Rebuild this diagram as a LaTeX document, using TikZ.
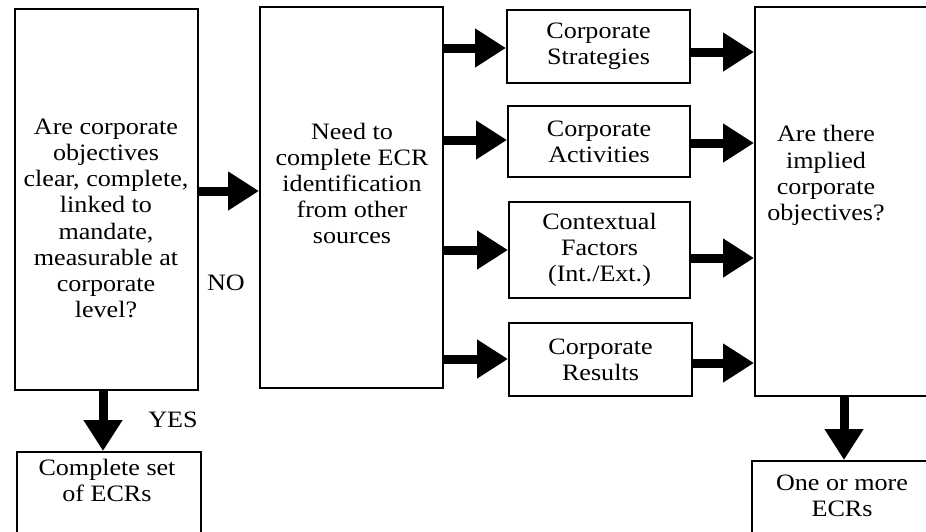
\documentclass[tikz,border=0pt]{standalone}
\usepackage{fontspec}
\setmainfont{Liberation Serif}[FakeStretch=1.11]
\usetikzlibrary{arrows.meta}
\tikzset{
  box/.style={draw, line width=2pt, inner sep=0pt, align=center},
  txt/.style={align=center, inner sep=0pt},
  fat/.style={line width=9pt, -{Triangle[length=31pt,width=37pt]}},
  every node/.style={font=\fontsize{23.5}{26.2}\selectfont}
}
\begin{document}
\begin{tikzpicture}[x=1pt,y=-1pt]
\useasboundingbox (0,0) rectangle (926,531);
% boxes
\node[box, minimum width=183pt, minimum height=381pt] (q1box) at (106.5,199.5) {};
\node[box, minimum width=183pt, minimum height=381pt] (need) at (351.5,197.5) {};
\node[box, minimum width=183pt, minimum height=73pt] (strat) at (598.5,46.5) {Corporate\\Strategies};
\node[box, minimum width=182pt, minimum height=71pt] (act) at (599,141.5) {Corporate\\Activities};
\node[box, minimum width=181pt, minimum height=96pt] (ctx) at (599.5,250) {Contextual\\Factors\\(Int./Ext.)};
\node[box, minimum width=183pt, minimum height=73pt] (res) at (600.5,359.5) {Corporate\\Results};
\node[box, minimum width=185pt, minimum height=389pt] (implied) at (847.5,201.5) {};
\node[box, minimum width=184pt, minimum height=108pt] (yesbox) at (109,506) {};
\node[box, minimum width=188pt, minimum height=99pt] (morebox) at (846,510.5) {};
% texts
\node[txt] (q1txt) at (106,218.5) {Are corporate\\objectives\\clear, complete,\\linked to\\mandate,\\measurable at\\corporate\\level?};
\node[txt] (needtxt) at (352,183.5) {Need to\\complete ECR\\identification\\from other\\sources};
\node[txt] (impliedtxt) at (826,175.5) {Are there\\implied\\corporate\\objectives?};
\node[txt] (yestxt) at (107,480.5) {Complete set\\of ECRs};
\node[txt] (moretxt) at (842,495.5) {One or more\\ECRs};
\node[txt] (no) at (226,283) {NO};
\node[txt] (yes) at (173,420) {YES};
% arrows
\draw[fat] (q1box.east |- 0,191) -- (need.west |- 0,191);
\draw[fat] (need.east |- 0,48) -- (strat.west |- 0,48);
\draw[fat] (need.east |- 0,140) -- (act.west |- 0,140);
\draw[fat] (need.east |- 0,250) -- (ctx.west |- 0,250);
\draw[fat] (need.east |- 0,359) -- (res.west |- 0,359);
\draw[fat] (strat.east |- 0,52) -- (implied.west |- 0,52);
\draw[fat] (act.east |- 0,143) -- (implied.west |- 0,143);
\draw[fat] (ctx.east |- 0,258) -- (implied.west |- 0,258);
\draw[fat] (res.east |- 0,363) -- (implied.west |- 0,363);
\draw[fat] (q1box.south -| 103,0) -- (yesbox.north -| 103,0);
\draw[fat] (implied.south -| 844,0) -- (morebox.north -| 844,0);
\end{tikzpicture}
\end{document}
